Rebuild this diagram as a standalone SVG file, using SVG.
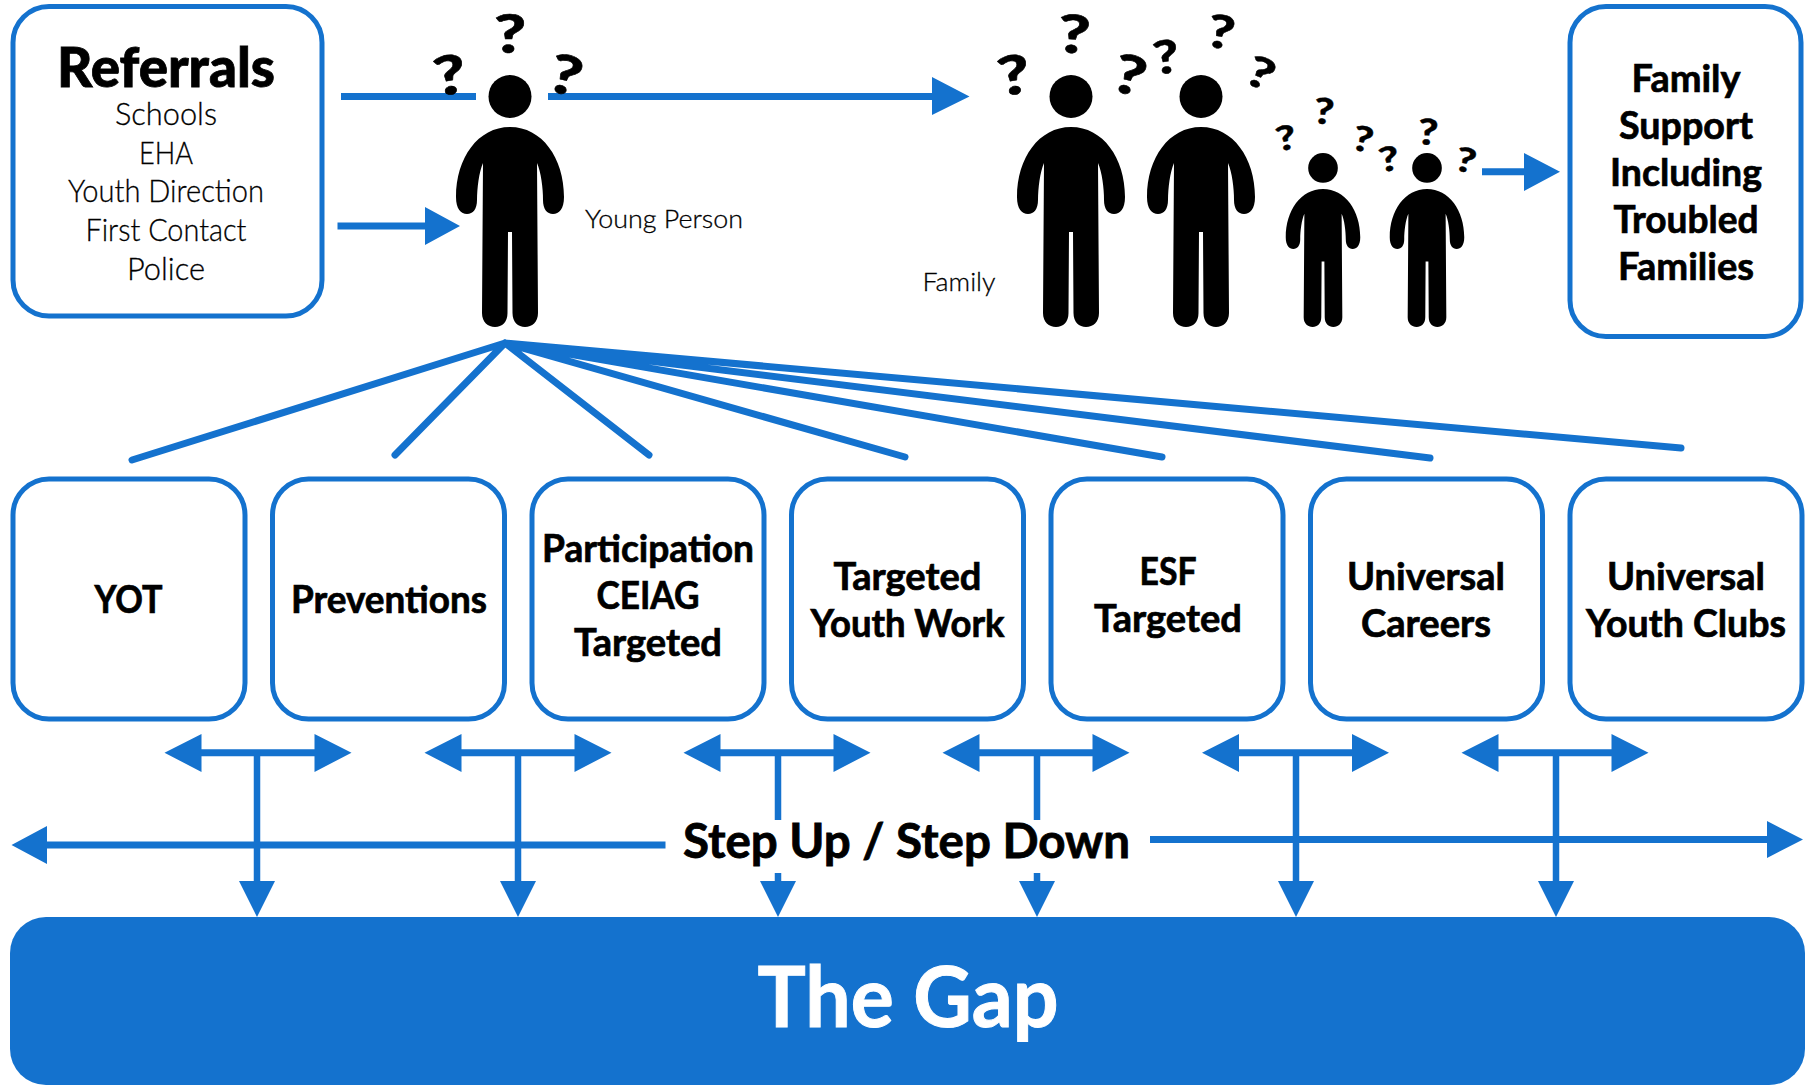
<svg xmlns="http://www.w3.org/2000/svg" width="1808" height="1085" viewBox="0 0 1808 1085">
<style>
text{font-family:"Lato","Open Sans","Liberation Sans",sans-serif;text-anchor:middle;fill:#000}
.b{font-weight:700;font-size:38px;stroke:#000;stroke-width:.7}
.r{font-weight:300;font-size:31px;stroke:#000;stroke-width:.3}
.l{font-weight:300;font-size:26px;stroke:#000;stroke-width:.3}
.q{font-weight:900;font-size:56px;stroke:#000;stroke-width:.6}
.box{fill:#fff;stroke:#1472ce;stroke-width:5}
.ln{fill:none;stroke:#1472ce;stroke-width:7}
.fan{fill:none;stroke:#1472ce;stroke-width:7;stroke-linecap:round}
.hd{fill:#1472ce}
</style>
<defs>
<g id="person">
<ellipse cx="0" cy="-230.5" rx="21.5" ry="21.5"/>
<path d="M0,-200C32,-200 54,-169 54,-130C54,-118 49,-113 43,-113C37,-113 33,-118 33,-127C33,-139 31,-155 27,-164L28,-14C28,-5 22,0 15,0C8,0 2.5,-5 2.5,-14L2,-95H-2L-2.5,-14C-2.5,-5 -8,0 -15,0C-22,0 -28,-5 -28,-14L-27,-164C-31,-155 -33,-139 -33,-127C-33,-118 -37,-113 -43,-113C-49,-113 -54,-118 -54,-130C-54,-169 -32,-200 0,-200Z"/>
</g>
</defs>
<g id="connectors">
<path class="ln" d="M341,96.500H476M548,96.500H935M337.500,226H428M1482,171.700H1527"/>
<path class="hd" d="M932,77L969.500,96.500L932,115ZM425,207L460,226L425,245ZM1524,153L1560,171.700L1524,191Z"/>
<path class="fan" d="M505,343L132,460M505,343L395,455M505,343L649,455M505,343L905,457M505,343L1162,457M505,343L1430,458M505,343L1681,448"/>
<path class="ln" d="M201,752.700H315M461,752.700H575M720,752.700H834M979,752.700H1093M1238,752.700H1352M1498,752.700H1612"/>
<path class="hd" d="M164.500,752.700L201.500,734V772ZM351.500,752.700L314.500,734V772ZM424.500,752.700L461.500,734V772ZM611.500,752.700L574.500,734V772ZM683.500,752.700L720.500,734V772ZM870.500,752.700L833.500,734V772ZM942.500,752.700L979.500,734V772ZM1129.500,752.700L1092.500,734V772ZM1202,752.700L1239,734V772ZM1389,752.700L1352,734V772ZM1461.500,752.700L1498.500,734V772ZM1648.500,752.700L1611.500,734V772Z"/>
<path class="ln" d="M47,845H665.500M1150,839.500H1770"/>
<path class="hd" d="M11.500,845L47,826V864ZM1803,839.500L1767,821V858Z"/>
<path class="ln" style="stroke-width:6.500" d="M257,752V885M518,752V885M778,752V820M778,873V885M1037,752V820M1037,873V885M1296,752V885M1556,752V885"/>
<path class="hd" d="M239,881H275L257,917ZM500,881H536L518,917ZM760,881H796L778,917ZM1019,881H1055L1037,917ZM1278,881H1314L1296,917ZM1538,881H1574L1556,917Z"/>
</g>
<g id="referrals">
<rect class="box" x="13" y="6.500" width="309" height="309.500" rx="36"/>
<text x="166" y="87" style="font-size:55px;font-weight:900;stroke:#000;stroke-width:.8" textLength="218" lengthAdjust="spacingAndGlyphs">Referrals</text>
<text class="r" x="166" y="125" textLength="102" lengthAdjust="spacingAndGlyphs">Schools</text>
<text class="r" x="166" y="163.500" textLength="54" lengthAdjust="spacingAndGlyphs">EHA</text>
<text class="r" x="166" y="202" textLength="196" lengthAdjust="spacingAndGlyphs">Youth Direction</text>
<text class="r" x="166" y="240.500" textLength="161" lengthAdjust="spacingAndGlyphs">First Contact</text>
<text class="r" x="166" y="279.500" textLength="78" lengthAdjust="spacingAndGlyphs">Police</text>
</g>
<g id="young-person">
<use href="#person" transform="translate(510,327)"/>
<text class="q" y="20" transform="translate(450,75) rotate(-10) scale(1.25,.96)">?</text>
<text class="q" y="20" transform="translate(510,34) scale(1.25,.94)">?</text>
<text class="q" y="20" transform="translate(566,75) rotate(14) scale(1.25,.96)">?</text>
<text class="l" x="664" y="228" textLength="158" lengthAdjust="spacingAndGlyphs">Young Person</text>
</g>
<g id="family">
<use href="#person" transform="translate(1071,327)"/>
<use href="#person" transform="translate(1201,327)"/>
<use href="#person" transform="translate(1323,327) scale(.69)"/>
<use href="#person" transform="translate(1427,327) scale(.69)"/>
<text class="q" y="20" transform="translate(1014,75) rotate(-10) scale(1.25,.96)">?</text>
<text class="q" y="20" transform="translate(1074,34) rotate(4) scale(1.25,.94)">?</text>
<text class="q" y="20" transform="translate(1130,75) rotate(14) scale(1.25,.96)">?</text>
<text class="q" y="20" transform="translate(1166,57) rotate(-8) scale(1,.82)">?</text>
<text class="q" y="20" transform="translate(1221,32) rotate(10) scale(1.05,.82)">?</text>
<text class="q" y="20" transform="translate(1261,73) rotate(22) scale(1.05,.76)">?</text>
<text class="q" y="20" transform="translate(1324,111) rotate(5) scale(.78,.64)">?</text>
<text class="q" y="20" transform="translate(1286,138) rotate(-12) scale(.78,.6)">?</text>
<text class="q" y="20" transform="translate(1363,139) rotate(12) scale(.78,.62)">?</text>
<text class="q" y="20" transform="translate(1389,159) rotate(-10) scale(.78,.6)">?</text>
<text class="q" y="20" transform="translate(1428,132) rotate(4) scale(.78,.64)">?</text>
<text class="q" y="20" transform="translate(1466,160) rotate(12) scale(.78,.6)">?</text>
<text class="l" x="959" y="290.500" textLength="73" lengthAdjust="spacingAndGlyphs">Family</text>
</g>
<g id="family-support">
<rect class="box" x="1570" y="6.500" width="231" height="330" rx="36"/>
<text class="b" x="1686" y="92" textLength="109" lengthAdjust="spacingAndGlyphs">Family</text>
<text class="b" x="1686" y="138.500" textLength="134" lengthAdjust="spacingAndGlyphs">Support</text>
<text class="b" x="1686" y="185.500" textLength="152" lengthAdjust="spacingAndGlyphs">Including</text>
<text class="b" x="1686" y="232.500" textLength="145" lengthAdjust="spacingAndGlyphs">Troubled</text>
<text class="b" x="1686" y="280" textLength="136" lengthAdjust="spacingAndGlyphs">Families</text>
</g>
<g id="yot"><rect class="box" x="13" y="479" width="232" height="240" rx="36"/>
<text class="b" x="128.500" y="613" textLength="68" lengthAdjust="spacingAndGlyphs">YOT</text></g>
<g id="preventions"><rect class="box" x="272.500" y="479" width="232" height="240" rx="36"/>
<text class="b" x="389" y="613" textLength="196" lengthAdjust="spacingAndGlyphs">Preventions</text></g>
<g id="participation"><rect class="box" x="532" y="479" width="232" height="240" rx="36"/>
<text class="b" x="648" y="562" textLength="212" lengthAdjust="spacingAndGlyphs">Participation</text>
<text class="b" x="648" y="609" textLength="103" lengthAdjust="spacingAndGlyphs">CEIAG</text>
<text class="b" x="648" y="656" textLength="148" lengthAdjust="spacingAndGlyphs">Targeted</text></g>
<g id="targeted-youth-work"><rect class="box" x="791.500" y="479" width="232" height="240" rx="36"/>
<text class="b" x="907.500" y="590" textLength="148" lengthAdjust="spacingAndGlyphs">Targeted</text>
<text class="b" x="907.500" y="637" textLength="194" lengthAdjust="spacingAndGlyphs">Youth Work</text></g>
<g id="esf-targeted"><rect class="box" x="1051" y="479" width="232" height="240" rx="36"/>
<text class="b" x="1168" y="585" textLength="57" lengthAdjust="spacingAndGlyphs">ESF</text>
<text class="b" x="1168" y="632" textLength="148" lengthAdjust="spacingAndGlyphs">Targeted</text></g>
<g id="universal-careers"><rect class="box" x="1310.500" y="479" width="232" height="240" rx="36"/>
<text class="b" x="1426" y="590" textLength="158" lengthAdjust="spacingAndGlyphs">Universal</text>
<text class="b" x="1426" y="637" textLength="130" lengthAdjust="spacingAndGlyphs">Careers</text></g>
<g id="universal-youth-clubs"><rect class="box" x="1570" y="479" width="232" height="240" rx="36"/>
<text class="b" x="1686" y="590" textLength="158" lengthAdjust="spacingAndGlyphs">Universal</text>
<text class="b" x="1686" y="637" textLength="200" lengthAdjust="spacingAndGlyphs">Youth Clubs</text></g>
<g id="step-label"><text x="906.500" y="858" style="font-size:47px;font-weight:700;stroke:#000;stroke-width:.8" textLength="447" lengthAdjust="spacingAndGlyphs">Step Up / Step Down</text></g>
<g id="the-gap"><rect x="10" y="917" width="1795" height="168" rx="36" fill="#1472ce"/>
<text x="908" y="1027" style="font-size:84px;font-weight:700;fill:#fff;stroke:#fff;stroke-width:1" textLength="301" lengthAdjust="spacingAndGlyphs">The Gap</text></g>
</svg>
